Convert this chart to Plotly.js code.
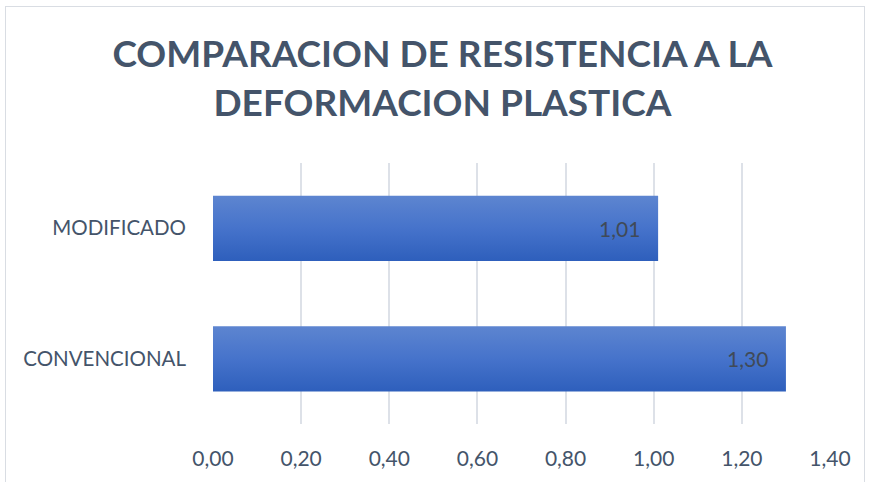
<!DOCTYPE html>
<html>
<head>
<meta charset="utf-8">
<script src="https://cdn.plot.ly/plotly-3.0.1.min.js"></script>
<style>
html,body{margin:0;padding:0;background:#fff;overflow:hidden;}
#frame{position:absolute;left:5px;top:6px;width:860px;height:490px;border:1px solid #D9DDE3;box-sizing:border-box;}
#chart{position:absolute;left:0;top:0;width:871px;height:482px;}
</style>
</head>
<body>
<div id="frame"></div>
<div id="chart"></div>
<script>
const categories = ['CONVENCIONAL', 'MODIFICADO'];
const values = [1.30, 1.01];
const tickValues = [0, 0.2, 0.4, 0.6, 0.8, 1.0, 1.2, 1.4];

const trace = {
  type: 'bar',
  orientation: 'h',
  y: categories,
  x: values,
  width: 0.5,
  marker: {color: '#4472C8', line: {width: 0}},
  hoverinfo: 'none'
};

const labelAnnotations = values.map((v, i) => ({
  x: v, y: categories[i], xref: 'x', yref: 'y',
  text: v.toFixed(2).replace('.', ','),
  showarrow: false, xanchor: 'right', yanchor: 'middle', xshift: -16,
  font: {family: 'Lato, sans-serif', size: 21, color: '#404A57'}
}));

const layout = {
  width: 871, height: 482,
  separators: ',.',
  paper_bgcolor: 'rgba(0,0,0,0)',
  plot_bgcolor: 'rgba(0,0,0,0)',
  margin: {l: 213, r: 41, t: 163, b: 58},
  showlegend: false,
  title: {
    text: '<b>COMPARACION DE RESISTENCIA A LA<br>DEFORMACION PLASTICA</b>',
    font: {family: 'Lato, sans-serif', size: 37, color: '#44546A'},
    x: 0.508, xanchor: 'center',
    y: 0.86, yanchor: 'top', yref: 'container'
  },
  annotations: labelAnnotations,
  xaxis: {
    range: [0, 1.4],
    tickvals: tickValues,
    tickformat: '.2f',
    showgrid: true,
    gridcolor: '#DDE1E8',
    gridwidth: 2,
    zeroline: false,
    showline: false,
    ticks: '',
    ticklabelstandoff: 20,
    tickfont: {family: 'Lato, sans-serif', size: 21, color: '#44546A'},
    fixedrange: true
  },
  yaxis: {
    showgrid: false,
    zeroline: false,
    showline: false,
    ticks: '',
    ticklabelstandoff: 26,
    tickfont: {family: 'Lato, sans-serif', size: 20.5, color: '#44546A'},
    fixedrange: true
  }
};

Plotly.newPlot('chart', [trace], layout, {displayModeBar: false, staticPlot: true}).then(gd => {
  const svg = gd.querySelector('svg.main-svg');
  const ns = 'http://www.w3.org/2000/svg';
  let defs = svg.querySelector('defs');
  if (!defs) { defs = document.createElementNS(ns, 'defs'); svg.insertBefore(defs, svg.firstChild); }
  const grad = document.createElementNS(ns, 'linearGradient');
  grad.setAttribute('id', 'barGrad');
  grad.setAttribute('x1', '0'); grad.setAttribute('y1', '0');
  grad.setAttribute('x2', '0'); grad.setAttribute('y2', '1');
  [['0', '#5D85D0'], ['0.5', '#4673CB'], ['1', '#2E5FBC']].forEach(([o, c]) => {
    const s = document.createElementNS(ns, 'stop');
    s.setAttribute('offset', o); s.setAttribute('stop-color', c);
    grad.appendChild(s);
  });
  defs.appendChild(grad);
  gd.querySelectorAll('.trace.bars path').forEach(p => { p.style.fill = 'url(#barGrad)'; });
});
</script>
</body>
</html>
